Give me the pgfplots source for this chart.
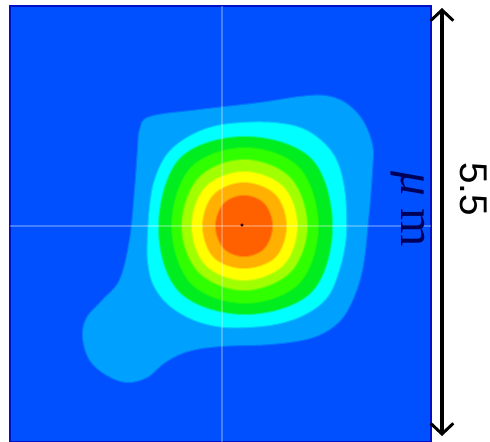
\documentclass[border=0pt]{standalone}
\usepackage{pgfplots}
\pgfplotsset{compat=1.18}
\usepackage{fontspec}
\setmainfont{Liberation Sans}
\newfontfamily\serifface{Liberation Serif}
\usetikzlibrary{arrows.meta}

\definecolor{bgblue}{HTML}{0050FF}
\definecolor{band1}{HTML}{00A0FF}
\definecolor{band2}{HTML}{00FFFF}
\definecolor{band3}{HTML}{00EE20}
\definecolor{band4}{HTML}{30FF00}
\definecolor{band5}{HTML}{A0FF00}
\definecolor{band6}{HTML}{FFFF00}
\definecolor{band7}{HTML}{FFB000}
\definecolor{band8}{HTML}{FF6000}

\pgfplotsset{band/.style={no markers, smooth cycle, tension=0.6, fill=#1, draw=#1, draw opacity=0.45, line width=1.8pt}}

\begin{document}
\begin{tikzpicture}
\begin{axis}[
	name=ax,
	scale only axis,
	width=315.75pt,
	height=327pt,
	xmin=10, xmax=431,
	ymin=6, ymax=442,
	y dir=reverse,
	ticks=none,
	clip=false,
	axis background/.style={fill=bgblue},
	axis line style={draw=black!30!blue!80!bgblue, line width=0.9pt},
	]

  % contours, outermost first, in pixels of the picture
  \addplot[band=band1] coordinates {(140,130) (150,117) (200,110) (260,103) (300,97) (325,96) (345,103) (362,120) (372,145) (372,170) (368,220) (362,270) (350,305) (335,325) (310,338) (270,344) (220,346) (188,351) (165,362) (147,377) (127,382) (107,375) (90,360) (83,337) (87,318) (103,300) (120,280) (130,240) (135,190) (138,150)};
  \addplot[band=band2] coordinates {(148,237) (150,207) (155,180) (167,155) (187,138) (213,127) (243,123) (273,123) (300,128) (320,140) (335,158) (343,183) (346,213) (345,243) (338,273) (327,297) (307,313) (280,323) (247,327) (217,326) (190,318) (167,303) (153,283) (148,260)};
  \addplot[band=band3] coordinates {(159,228) (180,159) (245,137) (311,159) (332,226) (311,292) (245,314) (180,292)};
  \addplot[band=band4] coordinates {(172,226) (191,168) (245,148) (299,168) (318,226) (299,283) (245,303) (191,283)};
  \addplot[band=band5] coordinates {(182,226) (199,178) (244,160) (290,178) (307,226) (290,272) (244,290) (199,272)};
  \addplot[band=band6] coordinates {(192,226) (206,187) (244,172) (283,187) (297,226) (283,265) (244,280) (206,265)};
  \addplot[band=band7] coordinates {(203,226) (214,195) (244,183) (275,195) (286,226) (275,257) (244,268) (214,257)};
  \addplot[band=band8] coordinates {(216,226) (224,204) (244,196) (264,204) (272,226) (264,248) (244,256) (224,248)};

  % centre point
  \addplot[only marks, mark=*, mark size=1pt, mark options={draw=none, fill=red!70!black}] coordinates {(242,225)};

  % cross hair
  \addplot[white, opacity=0.28, line width=2pt, forget plot] coordinates {(222,6) (222,442)};
  \addplot[white, opacity=0.28, line width=2pt, forget plot] coordinates {(10,226) (431,226)};

  % scale arrow
  \addplot[black, line width=2.4pt, {Straight Barb[length=8pt, width=17pt, line width=2.2pt]}-{Straight Barb[length=8pt, width=17pt, line width=2.2pt]}] coordinates {(442,8) (442,436)};

  \node[rotate=-90, anchor=base, text=blue!35!black, font=\serifface\fontsize{37}{37}\selectfont] at (axis cs:401,209) {{\itshape μ} m};
  \node[rotate=-90, anchor=base, font=\fontsize{29}{29}\selectfont] at (axis cs:460,189) {5.5};
\end{axis}
\pgfresetboundingbox
\path (ax.south west) ++(-7.5pt,0pt) rectangle ++(367.5pt,331.5pt);
\end{tikzpicture}
\end{document}
